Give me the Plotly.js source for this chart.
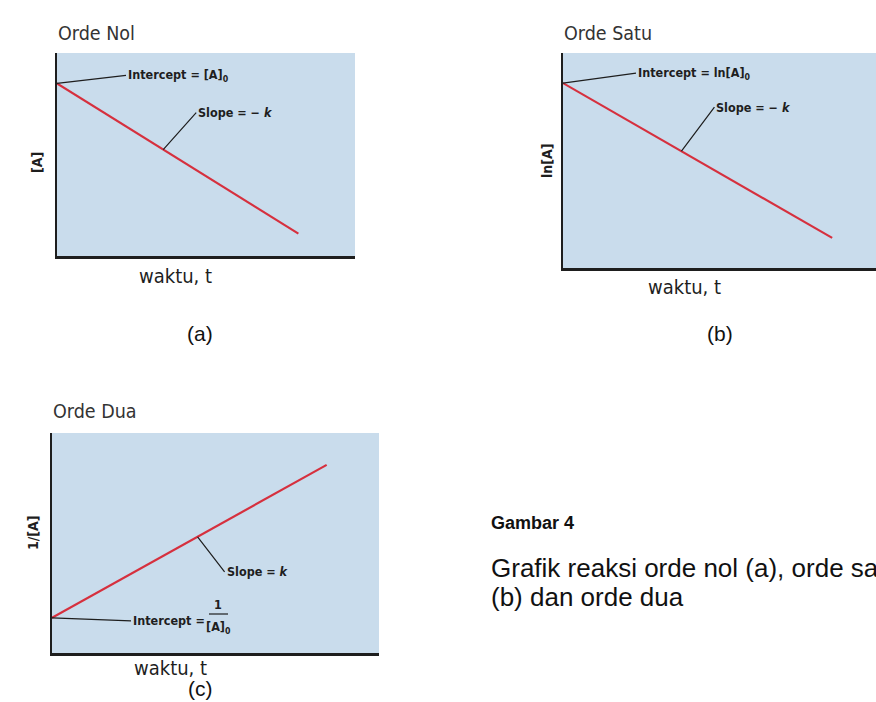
<!DOCTYPE html>
<html>
<head>
<meta charset="utf-8">
<script src="https://cdn.plot.ly/plotly-3.0.1.min.js"></script>
<style>html,body{margin:0;padding:0;background:#fff;}#chart{width:876px;height:702px;}</style>
</head>
<body>
<div id="chart"></div>
<script>
// ---- data ----
const panelTitles = ['Orde Nol', 'Orde Satu', 'Orde Dua'];
const yLabels = ['[A]', 'ln[A]', '1/[A]'];
const xLabel = 'waktu, t';
const panelTags = ['(a)', '(b)', '(c)'];
const tZero = [0, 8.1];
const concZero = [8.5, 1.1];
const tFirst = [0, 8.6];
const lnConcFirst = [8.6, 1.4];
const tSecond = [0, 8.4];
const invConcSecond = [1.6, 8.55];
const figureTitle = 'Gambar 4';
const figureCaption = ['Grafik reaksi orde nol (a), orde satu', '(b) dan orde dua'];

// ---- layout helpers (pixel -> paper) ----
const W = 876, H = 702;
const px = v => v / W;
const py = v => 1 - v / H;
const condFont = "'Liberation Sans Narrow', 'DejaVu Sans Condensed', 'Roboto Condensed', sans-serif";
const docFont = "'Liberation Sans', Arial, sans-serif";
const lineRed = '#d6303e';
const ink = '#1e1e1e';

const boxes = [
  {l: 57, r: 355, t: 53, b: 256},
  {l: 563, r: 876, t: 53, b: 268},
  {l: 52, r: 379, t: 433, b: 653}
];

function lineTrace(x, y, i) {
  const s = i === 0 ? '' : String(i + 1);
  return {x: x, y: y, type: 'scatter', mode: 'lines', xaxis: 'x' + s, yaxis: 'y' + s,
    line: {color: lineRed, width: 2.2}, hoverinfo: 'skip', showlegend: false};
}
const data = [
  lineTrace(tZero, concZero, 0),
  lineTrace(tFirst, lnConcFirst, 1),
  lineTrace(tSecond, invConcSecond, 2)
];

const layout = {
  width: W, height: H,
  margin: {l: 0, r: 0, t: 0, b: 0},
  paper_bgcolor: '#ffffff',
  plot_bgcolor: '#c9dcec',
  showlegend: false,
  annotations: [],
  shapes: []
};
boxes.forEach((b, i) => {
  const s = i === 0 ? '' : String(i + 1);
  const ax = {showgrid: false, zeroline: false, showticklabels: false, ticks: '',
    showline: true, linecolor: ink, linewidth: 2.5, range: [0, 10], fixedrange: true};
  layout['xaxis' + s] = Object.assign({}, ax, {domain: [px(b.l), px(b.r)], anchor: 'y' + s});
  layout['yaxis' + s] = Object.assign({}, ax, {domain: [py(b.b), py(b.t)], anchor: 'x' + s});
});

function paperText(text, x, y, opts) {
  layout.annotations.push(Object.assign({text: text, x: px(x), y: py(y), xref: 'paper', yref: 'paper',
    showarrow: false, xanchor: 'left', yanchor: 'middle'}, opts));
}
// panel titles
const titlePos = [[56, 33], [562, 33], [51, 412]];
panelTitles.forEach((t, i) => paperText(t, titlePos[i][0], titlePos[i][1],
  {font: {family: condFont, size: 19.5, color: '#333'}}));
// y labels
const yLabPos = [[37, 163], [547, 161], [33, 533]];
yLabels.forEach((t, i) => paperText('<b>' + t + '</b>', yLabPos[i][0], yLabPos[i][1],
  {xanchor: 'center', textangle: -90, font: {family: condFont, size: 14, color: ink}}));
// x labels
const xLabPos = [[175, 276], [684, 287], [170, 668]];
xLabPos.forEach(p => paperText(xLabel, p[0], p[1],
  {xanchor: 'center', font: {family: condFont, size: 20, color: ink}}));
// panel tags
const tagPos = [[200, 333], [720, 333], [200, 688]];
panelTags.forEach((t, i) => paperText(t, tagPos[i][0], tagPos[i][1],
  {xanchor: 'center', font: {family: docFont, size: 21, color: '#111'}}));
// caption
paperText('<b>' + figureTitle + '</b>', 489, 523, {font: {family: docFont, size: 18, color: '#111'}});
paperText(figureCaption[0], 489, 568, {font: {family: docFont, size: 26, color: '#111'}});
paperText(figureCaption[1], 489, 597, {font: {family: docFont, size: 26, color: '#111'}});

// leader-line labels pointing at the plotted lines
function leader(i, text, x, y, axp, ayp) {
  const s = i === 0 ? '' : String(i + 1);
  layout.annotations.push({text: '<b>' + text + '</b>', xref: 'x' + s, yref: 'y' + s, x: x, y: y,
    ax: axp, ay: ayp, showarrow: true, arrowhead: 0, arrowwidth: 1.2, arrowcolor: ink, standoff: 0,
    xanchor: 'left', yanchor: 'middle', borderpad: 1,
    font: {family: condFont, size: 12.5, color: ink}});
}
function onLine(xs, ys, f) {
  return [xs[0] + (xs[1] - xs[0]) * f, ys[0] + (ys[1] - ys[0]) * f];
}
leader(0, 'Intercept = [A]<sub>0</sub>', tZero[0], concZero[0], 69, -8);
let p = onLine(tZero, concZero, 0.44);
leader(0, 'Slope = \u2212 <i>k</i>', p[0], p[1], 33, -37);
leader(1, 'Intercept = ln[A]<sub>0</sub>', tFirst[0], lnConcFirst[0], 73, -10);
p = onLine(tFirst, lnConcFirst, 0.44);
leader(1, 'Slope = \u2212 <i>k</i>', p[0], p[1], 33, -44);
leader(2, 'Intercept =', tSecond[0], invConcSecond[0], 79, 3);
p = onLine(tSecond, invConcSecond, 0.53);
leader(2, 'Slope = <i>k</i>', p[0], p[1], 27, 35);
// fraction 1/[A]0
paperText('<b>1</b>', 218, 604, {xanchor: 'center', font: {family: condFont, size: 12.5, color: ink}});
paperText('<b>[A]<sub>0</sub></b>', 218, 627, {xanchor: 'center', font: {family: condFont, size: 12.5, color: ink}});
layout.shapes.push({type: 'line', xref: 'paper', yref: 'paper', x0: px(209), x1: px(228), y0: py(614), y1: py(614),
  line: {color: ink, width: 1.2}});

Plotly.newPlot('chart', data, layout, {staticPlot: true, displayModeBar: false});
</script>
</body>
</html>
